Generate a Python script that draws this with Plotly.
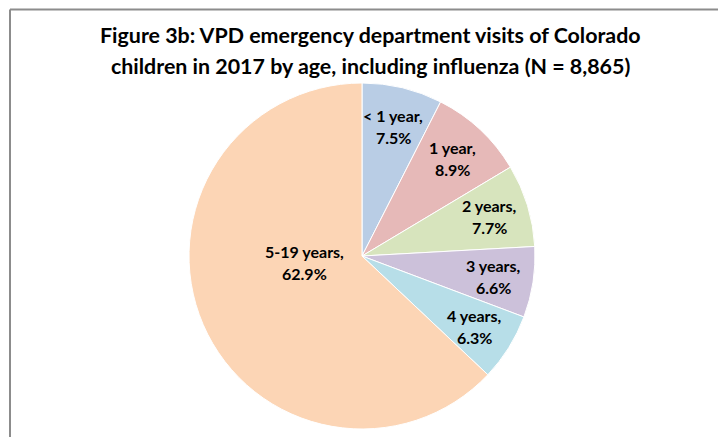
import math
import plotly.graph_objects as go

labels = ["< 1 year", "1 year", "2 years", "3 years", "4 years", "5-19 years"]
values = [7.5, 8.9, 7.7, 6.6, 6.3, 62.9]
colors = ["#B9CDE5", "#E6B9B8", "#D7E4BD", "#CCC1DA", "#B7DEE8", "#FCD5B5"]
title_lines = ["Figure 3b: VPD emergency department visits of Colorado",
               "children in 2017 by age, including influenza (N = 8,865)"]

OFF = 8  # browser body margin
W, H = 726 - OFF, 437 - OFF


def px(x):
    return (x - OFF) / W


def py(y):
    return 1 - (y - OFF) / H


# pie geometry (reference pixels)
cx, cy, R = 362, 256, 173

fig = go.Figure(go.Pie(
    labels=labels, values=values, sort=False, direction="clockwise", rotation=0,
    marker=dict(colors=colors, line=dict(color="white", width=1)),
    textinfo="none", hoverinfo="skip",
    domain=dict(x=[px(cx - R), px(cx + R)], y=[py(cy + R), py(cy - R)]),
    showlegend=False,
))

# data labels placed along each slice's mid angle (two lines each)
total = sum(values)
cum = 0.0
big = values.index(max(values))
lab_font = dict(family="Lato", size=16, color="black", weight="bold")
for i, (lab, v) in enumerate(zip(labels, values)):
    mid = (cum + v / 2) / total * 2 * math.pi
    cum += v
    if i == big:
        lr, dy = 0.36 * R, -18
    else:
        lr, dy = 0.77 * R, 0
    lx = cx + lr * math.sin(mid)
    ly = cy - lr * math.cos(mid) + dy
    for txt, oy in [(f"{lab},", -11), (f"{v:.1f}%", 11)]:
        fig.add_annotation(text=txt, xref="paper", yref="paper",
                           x=px(lx), y=py(ly + oy), xanchor="center", yanchor="middle",
                           showarrow=False, align="center", font=lab_font)

# chart frame
fl, fr, ft = px(10), px(721), py(9.5)
frame = dict(color="#8C8C8C", width=2)
for x0, y0, x1, y1 in [(fl, -0.1, fl, ft), (fr, -0.1, fr, ft), (fl, ft, fr, ft)]:
    fig.add_shape(type="line", xref="paper", yref="paper",
                  x0=x0, y0=y0, x1=x1, y1=y1, line=frame, layer="above")

for line, yy in zip(title_lines, [35, 66]):
    fig.add_annotation(text=line, xref="paper", yref="paper",
                       x=px(370.5), y=py(yy), xanchor="center", yanchor="middle",
                       showarrow=False, align="center",
                       font=dict(family="Lato", size=21.4, color="black", weight="bold"))
fig.update_layout(width=W, height=H, margin=dict(l=0, r=0, t=0, b=0),
                  paper_bgcolor="white", plot_bgcolor="white", showlegend=False)
fig.write_html("out.html")
